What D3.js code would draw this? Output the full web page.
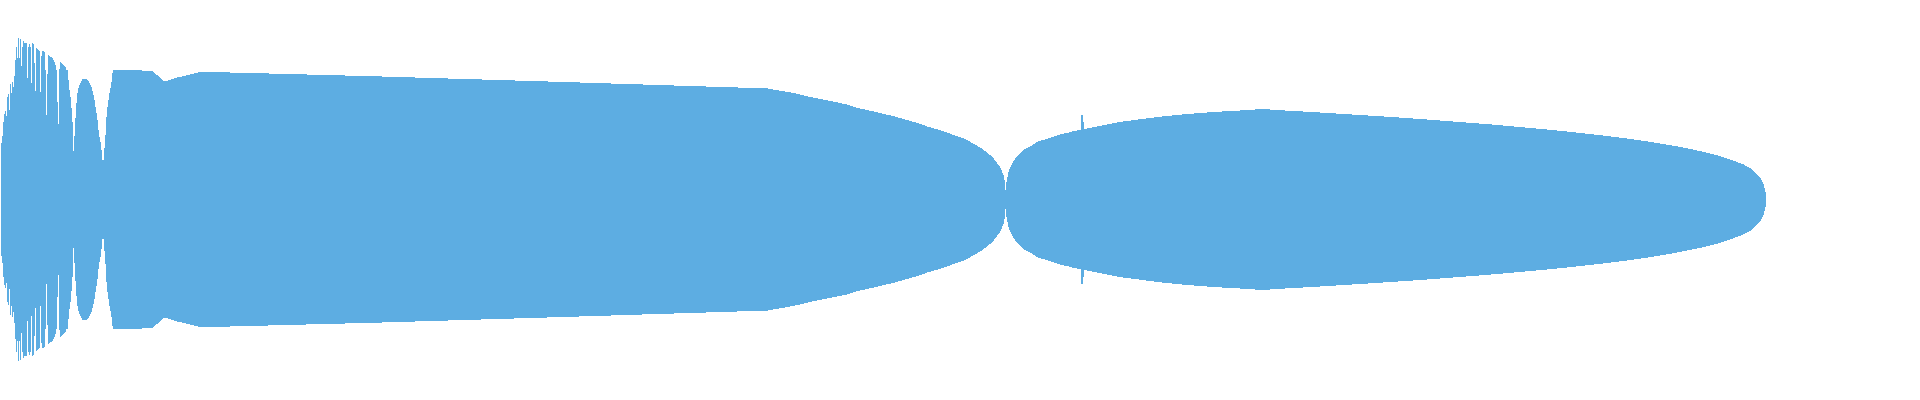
<!DOCTYPE html>
<html>
<head>
<meta charset="utf-8">
<script src="https://cdn.jsdelivr.net/npm/d3@7/dist/d3.min.js"></script>
<style>
  html, body { margin: 0; padding: 0; background: #ffffff; }
  svg { display: block; }
</style>
</head>
<body>
<svg id="chart" width="1920" height="400"></svg>
<script>
// ---- data ----
// onset: per-frame amplitude envelope (percent of full scale), one frame every 5 ms from t = 0
const frameMs = 5;
const onsetAmplitude = [
  19.3, 28.3, 31.8, 38.8, 42.8, 44.3, 41.8, 51.3, 52.8, 44.8,
  57.8, 53.3, 58.8, 56.3, 61.8, 69.8, 76.3, 70.8, 80.8, 70.8,
  80.3, 66.8, 76.3, 79.3, 78.3, 78.3, 78.3, 60.8, 76.3, 77.8,
  76.3, 58.3, 78.3, 77.8, 68.3, 54.3, 75.8, 75.3, 74.8, 74.3,
  53.3, 71.8, 74.3, 74.3, 73.8, 64.8, 42.3, 62.8, 72.3, 71.8,
  71.3, 71.3, 70.8, 69.8, 68.8, 67.3, 64.8, 48.8, 37.8, 65.3,
  68.8, 68.3, 67.8, 67.3, 66.8, 66.3, 64.8, 64.8, 59.8, 54.8,
  51.3, 45.8, 38.8, 24.3, 31.8, 40.8, 48.3, 53.3, 55.8, 57.3,
  58.3, 59.3, 60.3, 60.3, 60.3, 60.3, 60.3, 59.8, 59.3, 58.3,
  57.3, 56.3, 54.3, 52.3, 49.8, 46.3, 43.3, 39.8, 34.8, 31.3,
  28.8, 24.8, 19.8, 19.8, 25.8, 32.3, 41.3, 46.3, 49.8, 53.3,
  55.8, 58.8, 63.3, 64.8
];

// sustained part: envelope keypoints (time in ms, amplitude in percent)
const envelopeTimeMs = [
  705, 710, 760, 815, 830, 875, 940, 1000, 1110, 1875,
  2800, 3715, 3835, 3840, 3875, 3935, 3985, 4045, 4095, 4145,
  4195, 4240, 4285, 4330, 4375, 4415, 4460, 4495, 4530, 4565,
  4600, 4640, 4675, 4710, 4740, 4775, 4810, 4840, 4875, 4910,
  4940, 4960, 4975, 4990, 5000, 5005, 5010, 5015, 5020, 5025,
  5030, 5035, 5040, 5045, 5050, 5060, 5070, 5080, 5090, 5100,
  5115, 5135, 5155, 5175, 5195, 5215, 5245, 5275, 5305, 5335,
  5370, 5400, 5405, 5410, 5415, 5420, 5450, 5495, 5550, 5595,
  5675, 5750, 5835, 5940, 6070, 6250, 6310, 6370, 6550, 6710,
  6870, 7020, 7160, 7290, 7420, 7535, 7645, 7755, 7850, 7940,
  8030, 8110, 8180, 8250, 8310, 8370, 8420, 8470, 8515, 8555,
  8595, 8625, 8655, 8680, 8710, 8735, 8755, 8770, 8785, 8795,
  8805, 8815, 8825, 8827
];
const envelopeAmplitude = [
  64.8, 64.3, 64.3, 59.3, 59.3, 60.8, 62.3, 63.8, 63.6, 61.6,
  58.8, 55.9, 55.8, 55.4, 54.8, 53.8, 52.8, 51.3, 50.3, 49.3,
  48.3, 47.3, 45.8, 44.8, 43.8, 42.8, 41.8, 40.8, 39.8, 38.8,
  37.8, 36.3, 35.3, 34.3, 33.3, 31.8, 30.8, 29.3, 27.3, 25.3,
  22.8, 21.3, 19.3, 17.3, 15.8, 14.8, 13.3, 12.3, 9.8, 4.8,
  8.8, 11.3, 13.8, 15.3, 16.3, 18.3, 19.8, 21.3, 22.3, 23.3,
  24.8, 25.8, 26.8, 28.3, 29.3, 29.8, 30.8, 31.8, 32.8, 33.3,
  34.3, 34.8, 42.3, 42.3, 38.8, 35.3, 35.8, 36.8, 37.8, 38.8,
  39.8, 40.8, 41.8, 42.8, 43.8, 44.8, 45.3, 44.8, 43.8, 42.8,
  41.8, 40.8, 39.8, 38.8, 37.8, 36.8, 35.8, 34.8, 33.8, 32.8,
  31.8, 30.8, 29.8, 28.8, 27.8, 26.8, 25.8, 24.8, 23.8, 22.8,
  21.8, 20.8, 19.8, 18.8, 17.8, 16.3, 15.3, 13.8, 12.3, 11.3,
  9.8, 7.8, 3.8, 3.8
];

const timeDomainMs = [0, 9600];
const amplitudeDomain = [-100, 100];

// ---- build series ----
const series = onsetAmplitude.map((a, i) => ({ t: i * frameMs, a }))
  .concat(envelopeTimeMs.map((t, i) => ({ t, a: envelopeAmplitude[i] })));

// ---- draw ----
const width = 1920, height = 400;
const svg = d3.select("#chart");

const x = d3.scaleLinear().domain(timeDomainMs).range([0.5, width + 0.5]);
const y = d3.scaleLinear().domain(amplitudeDomain).range([height - 0.5, -0.5]);

const area = d3.area()
  .curve(d3.curveLinear)
  .x(d => x(d.t))
  .y0(d => y(-d.a))
  .y1(d => y(d.a));

svg.append("path")
  .datum(series)
  .attr("d", area)
  .attr("fill", "#5dade2")
  .attr("stroke", "none")
  .attr("shape-rendering", "crispEdges");
</script>
</body>
</html>
